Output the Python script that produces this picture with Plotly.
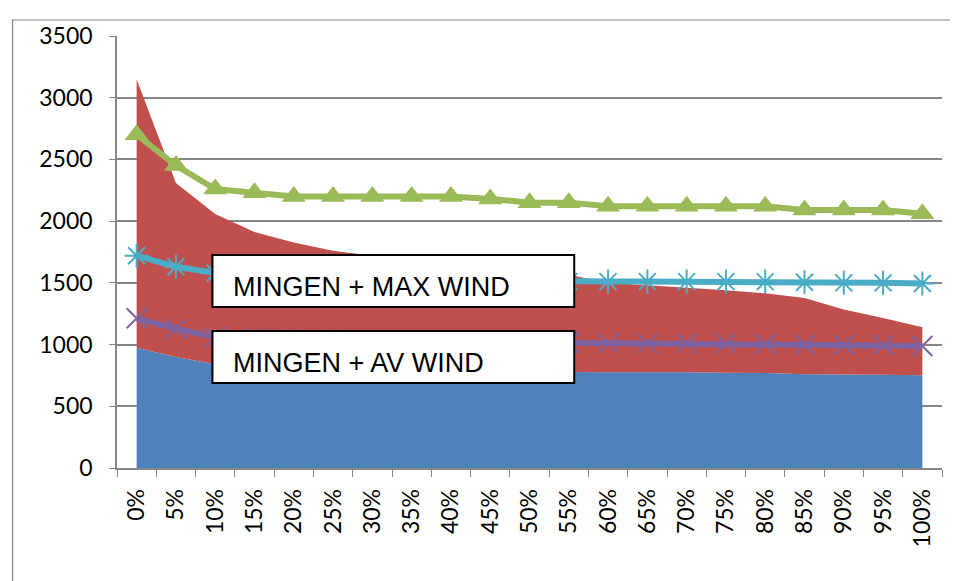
import plotly.graph_objects as go

categories = [f"{p}%" for p in range(0, 105, 5)]

mingen = [975, 900, 840, 820, 810, 805, 800, 795, 790, 785, 780, 778, 775, 775, 775, 772, 770, 760, 758, 755, 752]
total_gen = [3150, 2310, 2058, 1912, 1826, 1760, 1720, 1690, 1660, 1630, 1600, 1565, 1500, 1480, 1460, 1440, 1415, 1377, 1285, 1215, 1140]
wind_extra = [t - m for t, m in zip(total_gen, mingen)]

line_green = [2700, 2450, 2260, 2230, 2200, 2200, 2200, 2200, 2200, 2180, 2150, 2150, 2120, 2120, 2120, 2120, 2120, 2090, 2090, 2090, 2060]
line_cyan = [1720, 1630, 1580, 1560, 1545, 1535, 1530, 1525, 1520, 1515, 1510, 1510, 1510, 1510, 1510, 1510, 1510, 1505, 1500, 1500, 1495]
line_purple = [1213, 1128, 1060, 1050, 1040, 1035, 1030, 1025, 1022, 1020, 1018, 1015, 1010, 1010, 1010, 1008, 1005, 1000, 998, 995, 988]

box_labels = ["MINGEN + MAX WIND", "MINGEN + AV WIND"]

# page body has an 8px margin; work in page pixels and convert
OFF = 8
W, H = 958 - OFF, 581 - OFF
L, R, T, B = 116.5 - OFF, 942 - OFF, 36 - OFF, 468 - OFF


def px(x):
    return (x - OFF - L) / (R - L)


def py(y):
    return (B - (y - OFF)) / (B - T)


fig = go.Figure()
fig.add_trace(go.Scatter(x=categories, y=mingen, stackgroup="a", mode="none",
                         fillcolor="#4F81BD", line=dict(width=0)))
fig.add_trace(go.Scatter(x=categories, y=wind_extra, stackgroup="a", mode="none",
                         fillcolor="#C0504D", line=dict(width=0)))
fig.add_trace(go.Scatter(x=categories, y=line_green, mode="lines+markers",
                         line=dict(color="#9BBB59", width=6),
                         marker=dict(symbol="triangle-up", size=21, color="#9BBB59")))
fig.add_trace(go.Scatter(x=categories, y=line_cyan, mode="lines+markers",
                         line=dict(color="#4BACC6", width=6),
                         marker=dict(symbol="asterisk-open", size=20,
                                     line=dict(color="#4BACC6", width=2))))
fig.add_trace(go.Scatter(x=categories, y=line_purple, mode="lines+markers",
                         line=dict(color="#8064A2", width=6),
                         marker=dict(symbol="x-thin-open", size=20,
                                     line=dict(color="#8064A2", width=2))))

shapes = [
    dict(type="rect", xref="paper", yref="paper", x0=px(12), x1=px(970), y0=py(20), y1=py(600),
         line=dict(color="#868686", width=1.2), fillcolor="rgba(0,0,0,0)", layer="below"),
]
annotations = []
for (y0, y1), label in zip([(255, 307), (331, 383)], box_labels):
    shapes.append(dict(type="rect", xref="paper", yref="paper", x0=px(212), x1=px(574),
                       y0=py(y1), y1=py(y0), line=dict(color="black", width=2),
                       fillcolor="white", layer="above"))
    annotations.append(dict(xref="paper", yref="paper", x=px(231), y=py((y0 + y1) / 2 + 6),
                            xanchor="left", yanchor="middle", showarrow=False, text=label,
                            font=dict(family="Liberation Sans, Arial", size=27, color="black")))

fig.update_layout(
    width=W, height=H,
    margin=dict(l=L, r=W - R, t=T, b=H - B),
    plot_bgcolor="white", paper_bgcolor="white",
    showlegend=False,
    shapes=shapes, annotations=annotations,
    font=dict(family="Lato, Open Sans, sans-serif", size=23, color="black"),
    xaxis=dict(type="category", range=[-0.5, 20.5], tickson="boundaries", ticks="outside",
               ticklen=7, tickcolor="#868686", showline=True, linecolor="#868686", linewidth=1.5,
               showgrid=False, tickangle=-90, tickfont=dict(size=23), fixedrange=True,
               ticklabelstandoff=10),
    yaxis=dict(range=[0, 3500], dtick=500, ticks="outside", ticklen=6, tickcolor="#868686",
               showline=True, linecolor="#868686", linewidth=1.5, showgrid=True,
               gridcolor="#868686", gridwidth=1.5, zeroline=False, tickfont=dict(size=23),
               ticklabelstandoff=12),
)

fig.write_html("out.html")
